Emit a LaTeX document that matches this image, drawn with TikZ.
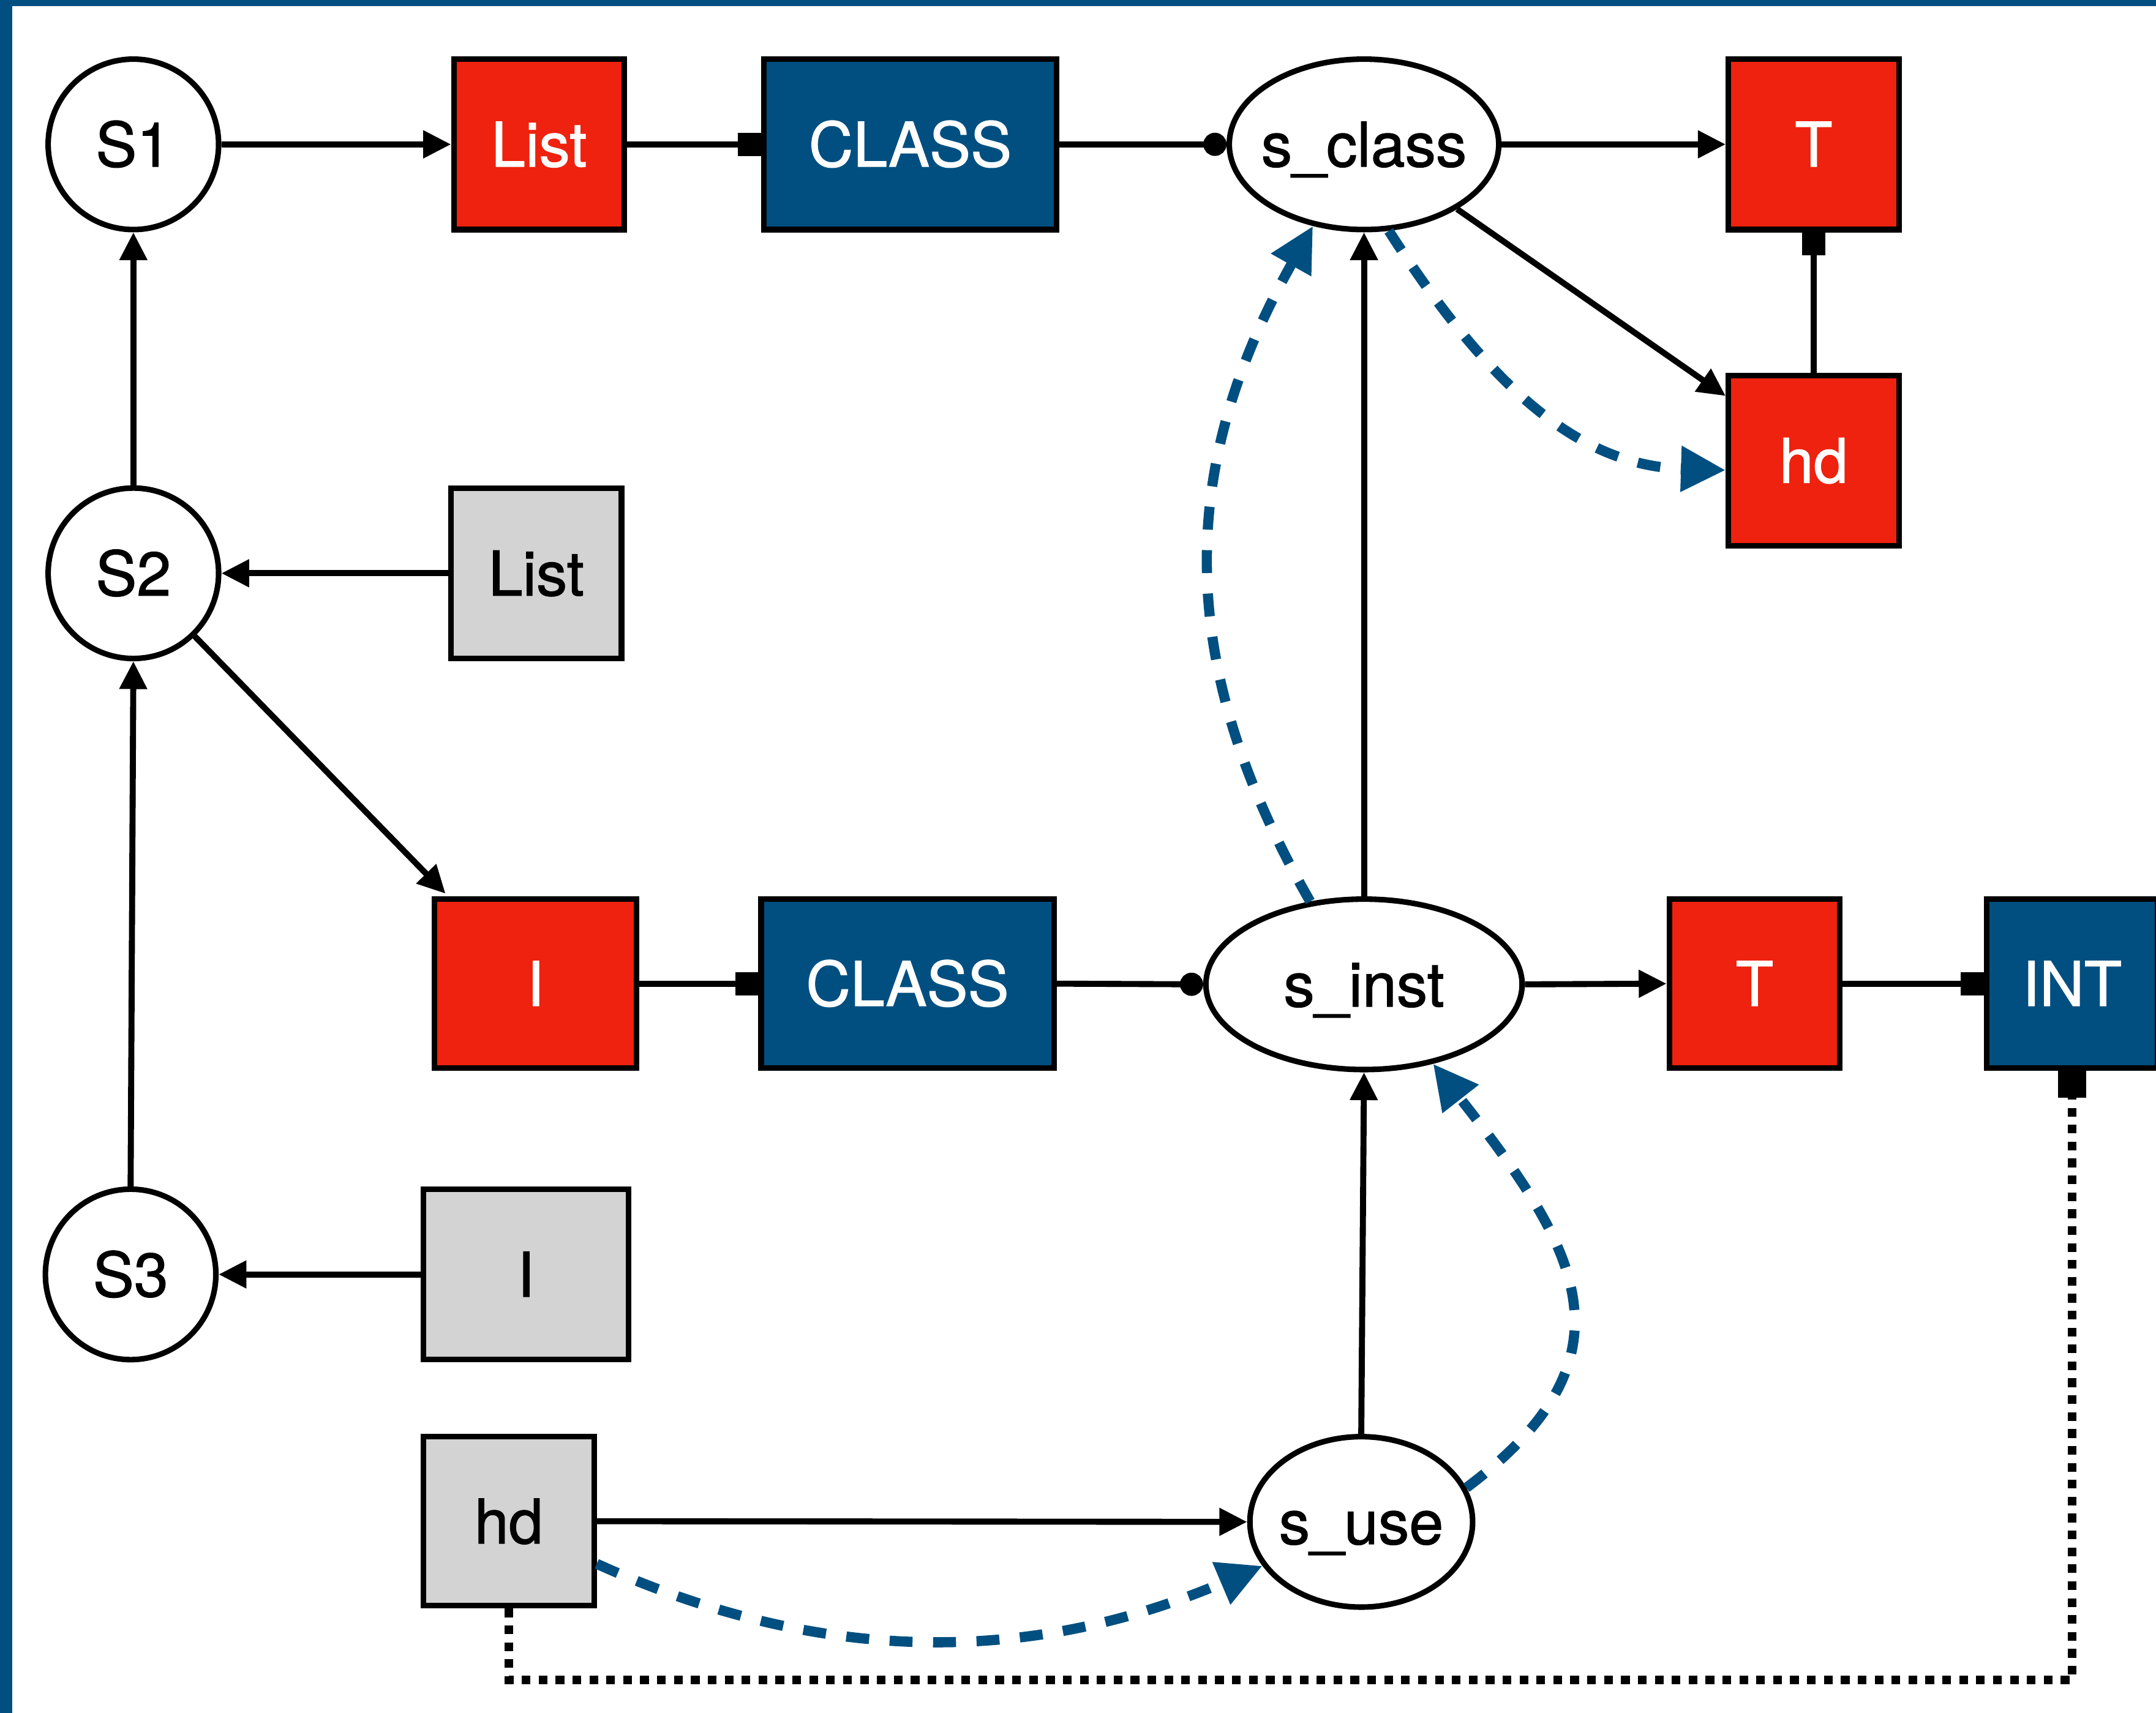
\documentclass[tikz,border=0pt]{standalone}
\usepackage{fontspec}
\setmainfont{TeX Gyre Heros}[FakeBold=1.2]
\usetikzlibrary{arrows.meta,shapes.geometric,calc}
\definecolor{myblue}{RGB}{0,79,128}
\definecolor{myred}{RGB}{238,34,14}
\definecolor{mygray}{RGB}{211,211,211}
\tikzset{
  lbl/.style={text height=18.4pt, text depth=0pt},
  box/.style={lbl, draw=black, line width=2.3pt, minimum width=2.48cm, minimum height=2.48cm, inner sep=0pt},
  redbox/.style={box, fill=myred, text=white},
  bluebox/.style={box, fill=myblue, text=white},
  graybox/.style={box, fill=mygray, text=black},
  state/.style={lbl, circle, draw=black, line width=2.3pt, fill=white, minimum size=2.48cm, inner sep=0pt},
  oval/.style={lbl, ellipse, draw=black, line width=2.3pt, fill=white, minimum height=2.48cm, inner sep=0pt},
  conn/.style={line width=2.5pt},
  arr/.style={conn, -{Triangle[length=11.5pt,width=11pt]}},
  sqr/.style={conn, -{Square[length=9.6pt,width=9.6pt]}},
  dotend/.style={conn, -{Circle[length=9.6pt]}},
  flow/.style={draw=myblue, line width=4.2pt, dash pattern=on 9.5pt off 8.5pt, -{Triangle[length=18.5pt,width=18pt]}},
  dep/.style={line width=3.6pt, dash pattern=on 3.6pt off 3.4pt, -{Square[length=11pt,width=11.5pt]}}
}
\begin{document}
\begin{tikzpicture}[x=0.02cm, y=-0.02cm, font=\fontsize{25.5pt}{30pt}\selectfont]
\useasboundingbox (0,0) rectangle (1568,1246);
% frame
\fill[myblue] (0,0) rectangle (8.8,1246);
\fill[myblue] (0,0) rectangle (1568,4.5);

% nodes
\node[state] (S1) at (97,105) {S1};
\node[state] (S2) at (97,417) {S2};
\node[state] (S3) at (95,927) {S3};
\node[redbox] (L1) at (392,105) {List};
\node[bluebox, minimum width=4.26cm] (C1) at (662,105) {CLASS};
\node[oval, minimum width=3.92cm] (scl) at (992,105) {\makebox[0pt]{s\_class}};
\node[redbox] (T1) at (1319,105) {T};
\node[redbox] (hd1) at (1319,335) {hd};
\node[graybox] (L2) at (390,417) {List};
\node[redbox, minimum width=2.94cm, minimum height=2.46cm] (I1) at (389.5,715.5) {I};
\node[bluebox, minimum width=4.26cm, minimum height=2.46cm] (C2) at (660,715.5) {CLASS};
\node[oval, minimum width=4.6cm] (sin) at (992,716) {\makebox[0pt]{s\_inst}};
\node[redbox, minimum height=2.46cm] (T2) at (1276,715.5) {T};
\node[bluebox, minimum height=2.46cm] (INT) at (1507,715.5) {INT};
\node[graybox, minimum width=2.98cm] (I2) at (382.5,927) {I};
\node[graybox, minimum height=2.46cm] (hd2) at (370,1106.5) {hd};
\node[oval, minimum width=3.24cm] (sus) at (990,1107) {\makebox[0pt]{s\_use}};

% solid connectors
\draw[arr] (S1.east) -- (L1.west);
\draw[sqr] (L1.east) -- (C1.west);
\draw[dotend] (C1.east) -- (scl.west);
\draw[arr] (scl.east) -- (T1.west);
\draw[arr] (scl) -- ($(hd1.north west)+(0,17)$);
\draw[sqr] (hd1.north) -- (T1.south);
\draw[arr] (S2.north) -- (S1.south);
\draw[arr] (L2.west) -- (S2.east);
\draw[arr] (S2) -- ($(I1.north west)+(10,-2)$);
\draw[arr] (S3.north) -- (S2.south);
\draw[arr] (I2.west) -- (S3.east);
\draw[sqr] (I1.east) -- (C2.west);
\draw[dotend] (C2.east) -- (sin.west);
\draw[arr] (sin.north) -- (scl.south);
\draw[arr] (sin.east) -- (T2.west);
\draw[sqr] (T2.east) -- (INT.west);
\draw[arr] (sus.north) -- (sin.south);
\draw[arr] (hd2.east) -- (sus.west);

% dashed blue flows
\draw[flow] (sin.123.5) .. controls +(-100,-174) and +(-98,174) .. (scl.238);
\draw[flow] (scl.286) .. controls +(80,125) and +(-100,-3) .. ($(hd1.west)+(0,7)$);
\draw[flow] (sus.18) .. controls +(128,-96) and +(105,134) .. (sin.311);
\draw[flow] ($(hd2.east)+(0,31)$) .. controls +(166,75) and +(-167,71) .. (sus.204);

% dotted dependency
\draw[dep] (hd2.south) -- ++(0,52) -| (INT.south);
\end{tikzpicture}
\end{document}
